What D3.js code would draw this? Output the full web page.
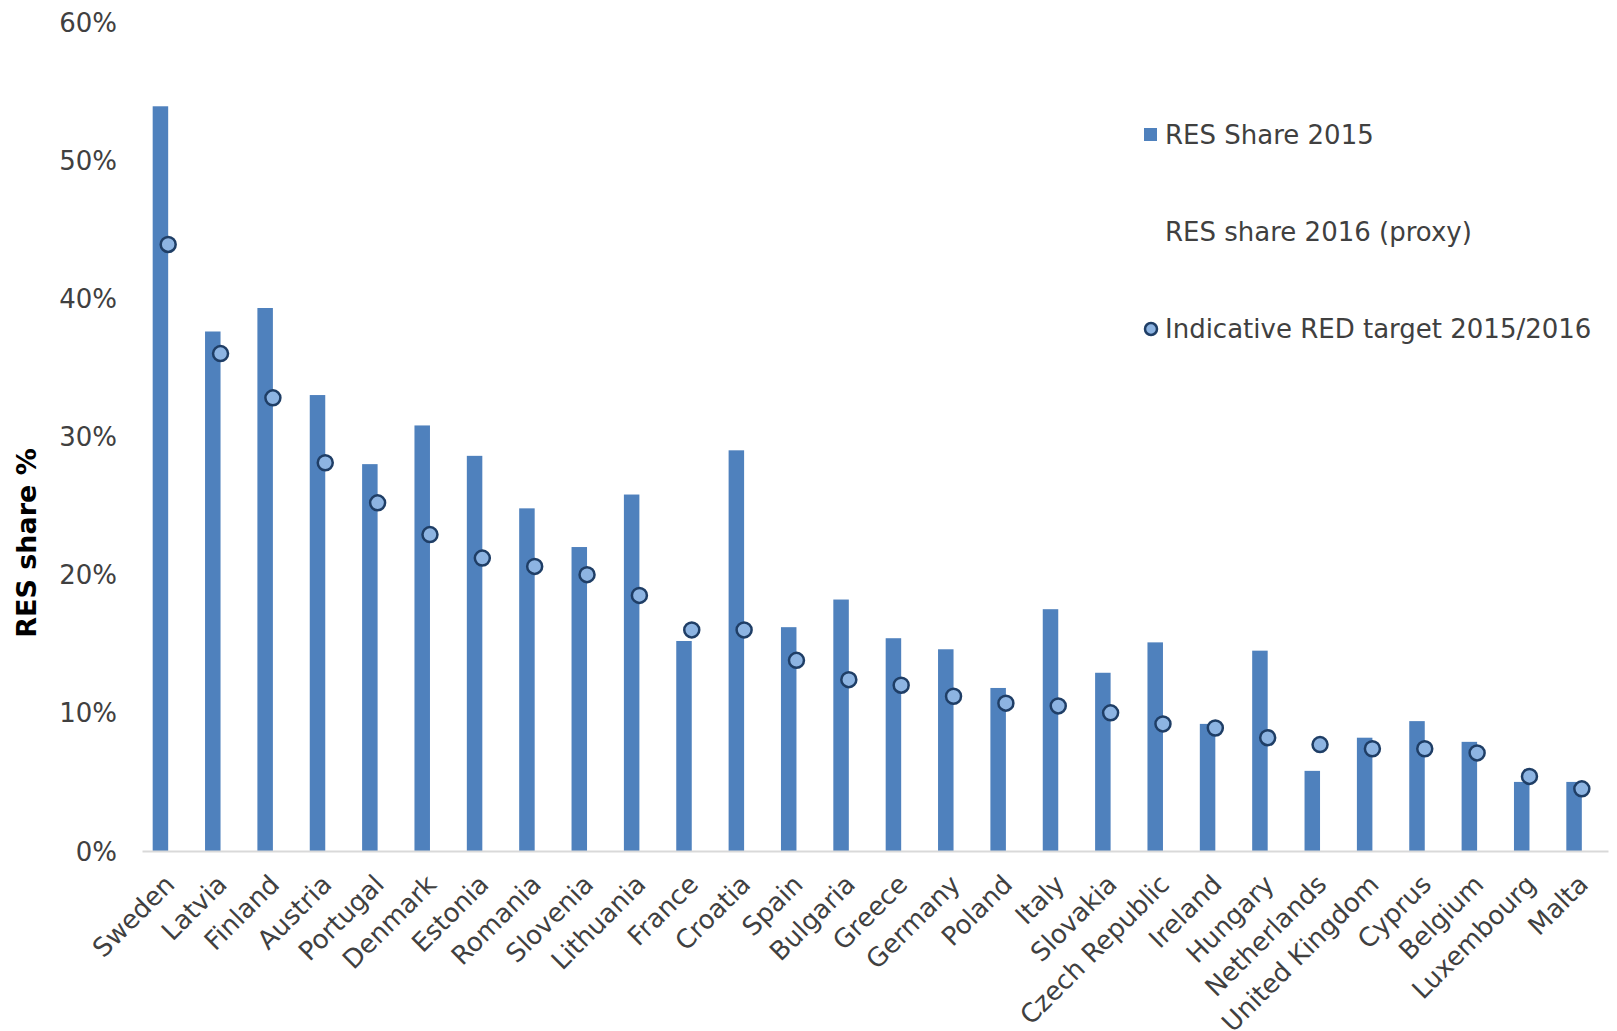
<!DOCTYPE html>
<html>
<head>
<meta charset="utf-8">
<script src="https://cdn.jsdelivr.net/npm/d3@7/dist/d3.min.js"></script>
<style>
  html, body { margin: 0; padding: 0; background: #fff; }
  svg { display: block; font-family: "DejaVu Sans", Verdana, sans-serif; }
</style>
</head>
<body>
<svg id="chart" width="1617" height="1031"></svg>
<script>
const countries = ["Sweden","Latvia","Finland","Austria","Portugal","Denmark","Estonia","Romania","Slovenia","Lithuania","France","Croatia","Spain","Bulgaria","Greece","Germany","Poland","Italy","Slovakia","Czech Republic","Ireland","Hungary","Netherlands","United Kingdom","Cyprus","Belgium","Luxembourg","Malta"];
const resShare2015 = [53.9,37.6,39.3,33.0,28.0,30.8,28.6,24.8,22.0,25.8,15.2,29.0,16.2,18.2,15.4,14.6,11.8,17.5,12.9,15.1,9.2,14.5,5.8,8.2,9.4,7.9,5.0,5.0];
const resShare2016Proxy = []; // present in legend only, no visible marks
const redTarget = [43.9,36.0,32.8,28.1,25.2,22.9,21.2,20.6,20.0,18.5,16.0,16.0,13.8,12.4,12.0,11.2,10.7,10.5,10.0,9.2,8.9,8.2,7.7,7.4,7.4,7.1,5.4,4.5];
const yTicks = [0,10,20,30,40,50,60];
const seriesNames = ["RES Share 2015","RES share 2016 (proxy)","Indicative RED target 2015/2016"];

const svg = d3.select("#chart");
const left = 142, right = 1608, y0 = 851, yTop = 22;

const x = d3.scaleBand().domain(countries).range([left, right]).paddingInner(0.408).paddingOuter(0.204);
const xSub = d3.scaleBand().domain(["2015","2016"]).range([0, x.bandwidth()]);
const y = d3.scaleLinear().domain([0, 60]).range([y0, yTop]);

// y axis labels
const yAxis = d3.axisLeft(y).tickValues(yTicks).tickFormat(d => d + "%").tickSize(0).tickPadding(0);
const ya = svg.append("g").attr("transform", `translate(117,0)`).call(yAxis);
ya.select(".domain").remove();
ya.selectAll("text").attr("font-size", 26).attr("fill", "#404040").attr("font-family", "DejaVu Sans, Verdana, sans-serif").attr("dy", "0.35em");

// bars
svg.append("g").selectAll("rect").data(countries).join("rect")
  .attr("x", (d) => x(d) + xSub("2015"))
  .attr("width", xSub.bandwidth())
  .attr("y", (d, i) => y(resShare2015[i]))
  .attr("height", (d, i) => y(0) - y(resShare2015[i]))
  .attr("fill", "#4F81BD");

// x axis
const xAxis = d3.axisBottom(x).tickSize(0).tickPadding(0);
const xa = svg.append("g").attr("transform", `translate(0,${y0})`).call(xAxis);
xa.select(".domain").attr("stroke", "#D9D9D9").attr("stroke-width", 2);
xa.selectAll(".tick text")
  .attr("font-size", 26).attr("fill", "#404040").attr("font-family", "DejaVu Sans, Verdana, sans-serif")
  .attr("text-anchor", "end").attr("dy", null).attr("y", 0)
  .attr("transform", "translate(8,35) rotate(-45)");

// target markers
svg.append("g").selectAll("circle").data(countries).join("circle")
  .attr("cx", d => x(d) + x.bandwidth() / 2)
  .attr("cy", (d, i) => y(redTarget[i]))
  .attr("r", 7.5)
  .attr("fill", "#8DB4E2")
  .attr("stroke", "#1F3E66")
  .attr("stroke-width", 2.5);

// y title
svg.append("text").attr("transform", "translate(26,543) rotate(-90)")
  .attr("text-anchor", "middle").attr("dominant-baseline", "central")
  .attr("font-size", 27).attr("font-weight", "bold").attr("fill", "#000")
  .text("RES share %");

// legend
const lg = svg.append("g");
const legY = [135, 232, 329];
lg.append("rect").attr("x", 1144).attr("y", legY[0] - 7).attr("width", 13).attr("height", 13).attr("fill", "#4F81BD");
lg.append("circle").attr("cx", 1151).attr("cy", legY[2]).attr("r", 6).attr("fill", "#8DB4E2").attr("stroke", "#1F3E66").attr("stroke-width", 2.5);
lg.selectAll("text").data(seriesNames).join("text")
  .attr("x", 1165).attr("y", (d, i) => legY[i])
  .attr("dominant-baseline", "central")
  .attr("font-size", 26).attr("fill", "#404040")
  .text(d => d);
</script>
</body>
</html>
